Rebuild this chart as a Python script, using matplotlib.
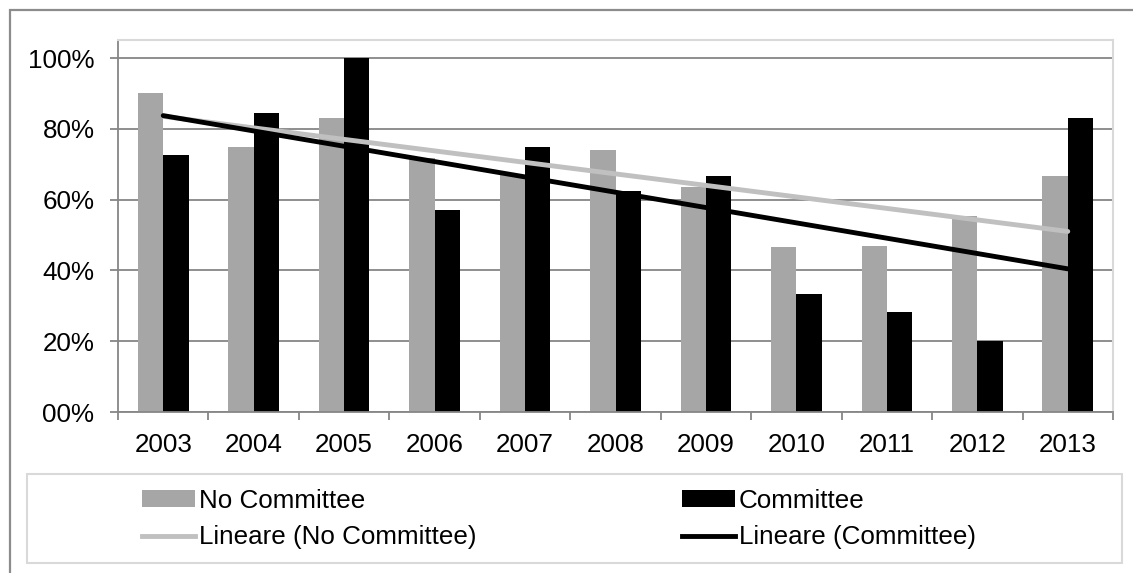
import numpy as np
import matplotlib
matplotlib.use("Agg")
import matplotlib.pyplot as plt
from matplotlib.patches import Rectangle, Patch
from matplotlib.lines import Line2D

years = ["2003", "2004", "2005", "2006", "2007", "2008", "2009", "2010", "2011", "2012", "2013"]
no_committee = [0.90, 0.75, 0.832, 0.717, 0.67, 0.74, 0.636, 0.465, 0.469, 0.554, 0.667]
committee = [0.726, 0.845, 1.00, 0.571, 0.75, 0.624, 0.667, 0.332, 0.283, 0.20, 0.832]
y_ticks = [0.0, 0.2, 0.4, 0.6, 0.8, 1.0]
y_labels = ["00%", "20%", "40%", "60%", "80%", "100%"]

plt.rcParams['font.family'] = ['Liberation Sans', 'DejaVu Sans']

W, H = 1133, 573
fig = plt.figure(figsize=(W / 100, H / 100), dpi=100)
ax = fig.add_axes([118 / W, 1 - 412 / H, (1113 - 118) / W, (412 - 40) / H])

GRAY_BAR = "#a6a6a6"
GRAY_LINE = "#c0c0c0"
GRID = "#868686"
LIGHT = "#d9d9d9"
LW = 3.5

x = np.arange(len(years))
bw = 0.28
ax.bar(x - bw / 2, no_committee, width=bw, color=GRAY_BAR, zorder=2)
ax.bar(x + bw / 2, committee, width=bw, color="black", zorder=2)

# linear trendlines (Excel "Lineare")
for vals, col in [(no_committee, GRAY_LINE), (committee, "black")]:
    k, b = np.polyfit(x, vals, 1)
    ax.plot(x, k * x + b, color=col, lw=LW, solid_capstyle="round", zorder=3)

ax.set_xlim(-0.5, len(years) - 0.5)
ax.set_ylim(0, 1.051)
ax.set_yticks(y_ticks)
ax.set_yticklabels(y_labels)
ax.yaxis.grid(True, color=GRID, lw=1.3, zorder=1)
ax.set_axisbelow(True)

ax.set_xticks(x)
ax.set_xticklabels(years)
ax.set_xticks(np.arange(len(years) + 1) - 0.5, minor=True)
ax.tick_params(axis="x", which="major", length=0, pad=15, labelsize=18.7)
ax.tick_params(axis="x", which="minor", length=6, width=1.3, color=GRID, direction="out")
ax.tick_params(axis="y", length=6, width=1.3, color=GRID, pad=11, labelsize=18.7)

for s in ["top", "right"]:
    ax.spines[s].set_color(LIGHT)
    ax.spines[s].set_linewidth(1.5)
for s in ["left", "bottom"]:
    ax.spines[s].set_color(GRID)
    ax.spines[s].set_linewidth(1.3)

# outer chart border
fig.add_artist(Rectangle((10 / W, -0.1), 1.2, 1 - 10 / H + 0.1, transform=fig.transFigure,
                         fill=False, edgecolor="#8c8c8c", lw=1.6, clip_on=False))

# legend frame
fig.add_artist(Rectangle((27 / W, 1 - 563 / H), (1122 - 27) / W, (563 - 474) / H,
                         transform=fig.transFigure, fill=False, edgecolor=LIGHT, lw=1.5))

handles = [Patch(facecolor=GRAY_BAR, edgecolor="none"),
           Line2D([], [], color=GRAY_LINE, lw=LW),
           Patch(facecolor="black", edgecolor="none"),
           Line2D([], [], color="black", lw=LW)]
labels = ["No Committee", "Lineare (No Committee)", "Committee", "Lineare (Committee)"]
fig.legend(handles, labels, ncol=2, loc="center left",
           bbox_to_anchor=(142 / W, 1 - 519 / H), frameon=False,
           fontsize=18.7, handlelength=2.05, handleheight=0.6, handletextpad=0.15,
           columnspacing=7.9, labelspacing=0.5, borderpad=0, borderaxespad=0)

fig.savefig("out.png", dpi=100)
